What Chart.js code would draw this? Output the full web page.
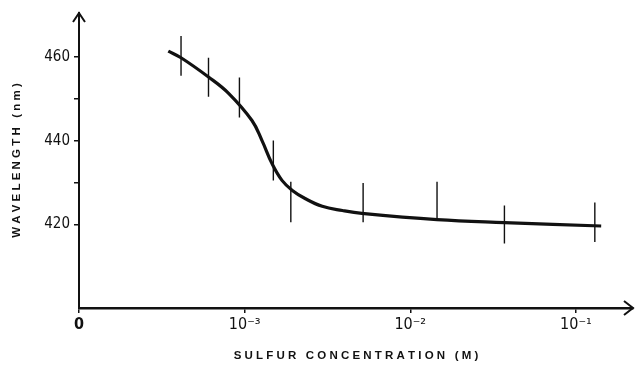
<!DOCTYPE html>
<html>
<head>
<meta charset="utf-8">
<script src="https://cdn.jsdelivr.net/npm/chart.js@4"></script>
<style>
  html, body { margin: 0; padding: 0; background: #fff; }
  #wrap { width: 635px; height: 366px; }
</style>
</head>
<body>
<div id="wrap"><canvas id="chart"></canvas></div>
<script>
// fitted curve
const curveConc = [3.46e-4, 4.13e-4, 6.05e-4, 8.0e-4, 1.107e-3, 1.273e-3, 1.463e-3, 1.68e-3, 1.94e-3, 2.33e-3, 2.94e-3, 3.89e-3, 5.1e-3, 1.45e-2, 3.7e-2, 0.142];
const curveWave = [461.4, 459.8, 455.2, 451.3, 444.8, 440.0, 434.5, 430.5, 428.1, 426.1, 424.3, 423.3, 422.6, 421.1, 420.4, 419.6];

// error bars
const barConc = [4.13e-4, 6.05e-4, 9.3e-4, 1.49e-3, 1.9e-3, 5.19e-3, 1.45e-2, 3.7e-2, 0.13];
const barLow = [455.5, 450.5, 445.5, 430.5, 420.5, 420.5, 421.0, 415.4, 415.8];
const barHigh = [465.0, 459.8, 455.1, 440.0, 430.2, 429.9, 430.2, 424.5, 425.2];

// ticks
const xTicks = [1e-4, 1e-3, 1e-2, 1e-1];
const xTickLabels = ["0", "10\u207B\u00B3", "10\u207B\u00B2", "10\u207B\u00B9"];
const yTicks = [420, 430, 440, 450, 460];
const yTickLabels = ["420", "", "440", "", "460"];

const ink = "#111";

const curveData = curveConc.map((c, i) => ({ x: c, y: curveWave[i] }));
const barData = [];
barConc.forEach((c, i) => {
    barData.push({ x: c, y: barLow[i] });
    barData.push({ x: c, y: barHigh[i] });
    barData.push({ x: c, y: null });
});

// arrow heads at the axis ends
const arrows = {
    id: "arrows",
    afterDraw(chart) {
        const { ctx, chartArea: a } = chart;
        ctx.save();
        ctx.strokeStyle = ink;
        ctx.lineWidth = 2;
        ctx.beginPath();
        ctx.moveTo(a.left - 6, a.top + 9);
        ctx.lineTo(a.left, a.top);
        ctx.lineTo(a.left + 6, a.top + 9);
        ctx.moveTo(a.right - 9, a.bottom - 7);
        ctx.lineTo(a.right, a.bottom);
        ctx.lineTo(a.right - 9, a.bottom + 7);
        ctx.stroke();
        ctx.restore();
    }
};

new Chart(document.getElementById("chart"), {
    type: "line",
    data: {
        datasets: [
            {
                data: curveData,
                borderColor: ink,
                borderWidth: 3.2,
                pointRadius: 0,
                tension: 0.4,
                fill: false
            },
            {
                data: barData,
                borderColor: ink,
                borderWidth: 1.4,
                pointRadius: 0,
                spanGaps: false,
                fill: false
            }
        ]
    },
    options: {
        responsive: true,
        maintainAspectRatio: false,
        animation: false,
        events: [],
        layout: { padding: { top: 12, right: 2, left: 0, bottom: 0 } },
        plugins: {
            legend: { display: false },
            tooltip: { enabled: false }
        },
        scales: {
            x: {
                type: "logarithmic",
                min: 1e-4,
                max: 0.221,
                afterBuildTicks: axis => { axis.ticks = xTicks.map(v => ({ value: v })); },
                afterFit: axis => { axis.height = 58; },
                border: { color: ink, width: 2.5 },
                grid: { drawOnChartArea: false, color: ink, tickLength: 5, lineWidth: 1.5 },
                ticks: {
                    color: ink,
                    padding: 2,
                    maxRotation: 0,
                    autoSkip: false,
                    font: c => ({ family: "DejaVu Sans Condensed", size: 16, weight: c.index === 0 ? "bold" : "normal" }),
                    callback: (v, i) => xTickLabels[i]
                },
                title: {
                    display: true,
                    text: "S U L F U R   C O N C E N T R A T I O N   ( M )",
                    color: ink,
                    font: { family: "Liberation Sans", size: 11.5, weight: "bold" },
                    padding: { top: 0, bottom: 3 }
                }
            },
            y: {
                min: 400,
                max: 470.5,
                afterBuildTicks: axis => { axis.ticks = yTicks.map(v => ({ value: v })); },
                afterFit: axis => { axis.width = 79; },
                border: { color: ink, width: 2 },
                grid: { drawOnChartArea: false, color: ink, tickLength: 5, lineWidth: 1.5 },
                ticks: {
                    color: ink,
                    padding: 4,
                    font: { family: "DejaVu Sans Condensed", size: 15 },
                    callback: (v, i) => yTickLabels[i]
                },
                title: {
                    display: true,
                    text: "W A V E L E N G T H   ( n m )",
                    color: ink,
                    font: { family: "Liberation Sans", size: 11.5, weight: "bold" },
                    padding: { top: 10, bottom: 0 }
                }
            }
        }
    },
    plugins: [arrows]
});
</script>
</body>
</html>
